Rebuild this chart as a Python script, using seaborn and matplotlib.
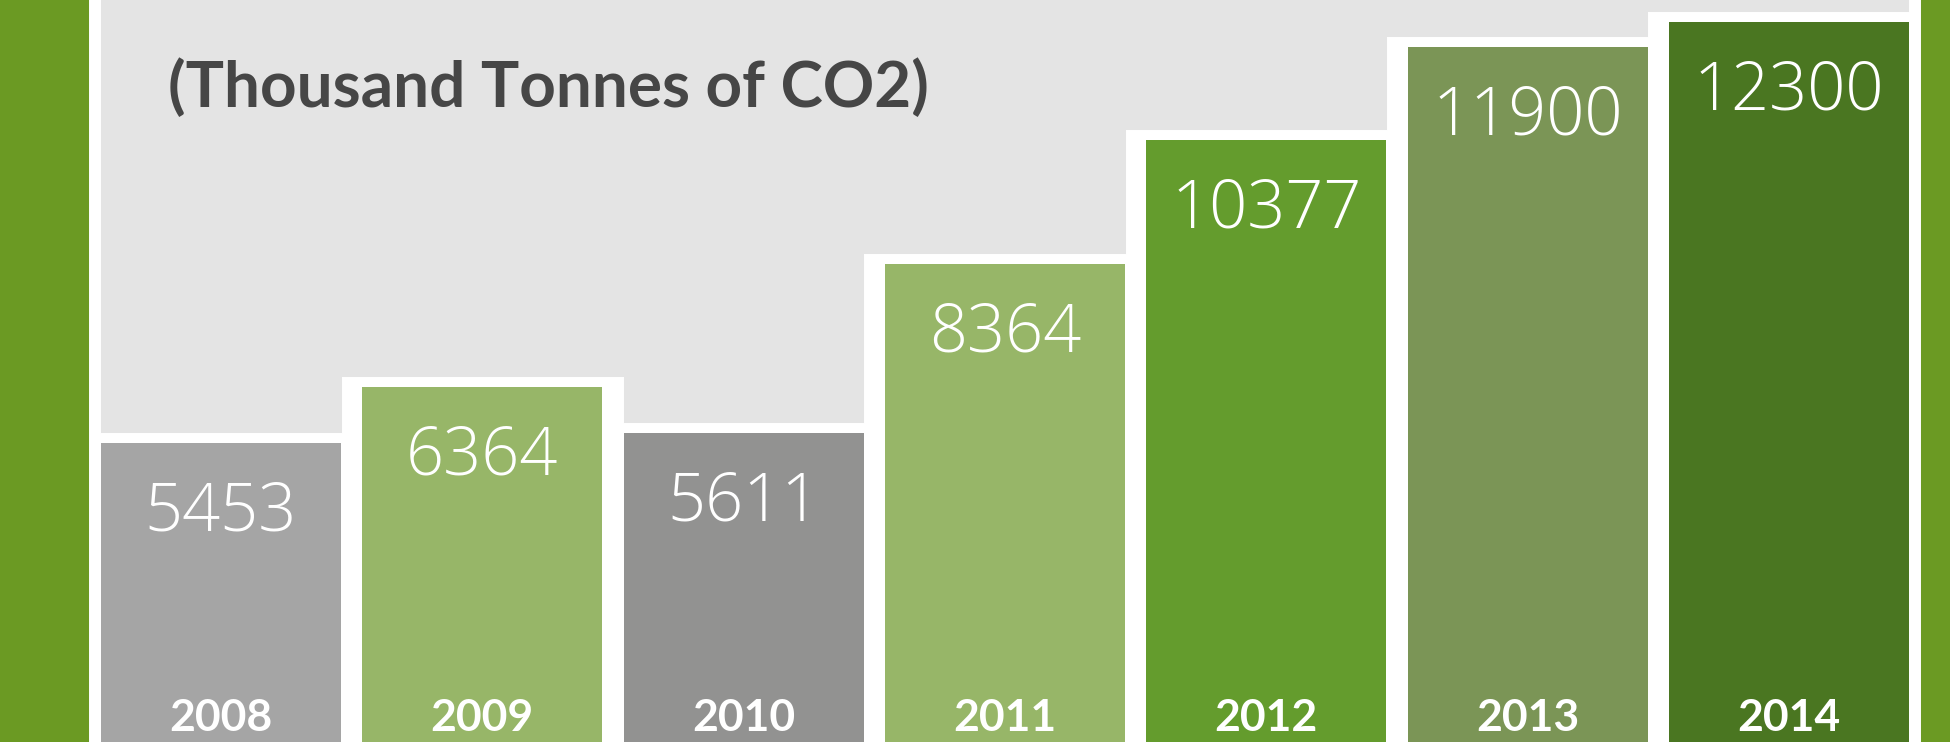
import matplotlib
matplotlib.use("Agg")
import matplotlib.pyplot as plt
import seaborn as sns

# data
years = ["2008", "2009", "2010", "2011", "2012", "2013", "2014"]
values = [5453, 6364, 5611, 8364, 10377, 11900, 12300]
bar_colors = ["#a5a5a5", "#97b668", "#929291", "#97b668", "#649c2d", "#7b9556", "#4a7621"]
subtitle = "(Thousand Tonnes of CO2)"

sns.set_style("white")
plt.rcParams["font.family"] = ["Lato", "DejaVu Sans"]

W, H, DPI = 1950, 742, 100
fig = plt.figure(figsize=(W / DPI, H / DPI), dpi=DPI, facecolor="#6b9a23")
# gray panel between the white side strips
ax = fig.add_axes([95 / W, 0, (1915 - 95) / W, 1])
ax.set_facecolor("#e4e4e4")

# white frame behind each bar, then the coloured bar itself
sns.barplot(x=years, y=values, color="white", width=1.0, saturation=1,
            edgecolor="white", linewidth=15.1, ax=ax)
sns.barplot(x=years, y=values, hue=years, palette=bar_colors, width=0.918,
            saturation=1, linewidth=0, legend=False, ax=ax)

ax.set_xlim(-0.482, 6.482)
ax.set_ylim(589, 12660)
ax.set_xticks([])
ax.set_yticks([])
ax.set_xlabel("")
ax.set_ylabel("")
for side in ["top", "bottom"]:
    ax.spines[side].set_visible(False)
for side in ["left", "right"]:
    ax.spines[side].set_color("white")
    ax.spines[side].set_linewidth(8.6)

# value labels inside the bars, year at the bottom
for i, v in enumerate(values):
    ax.annotate(str(v), xy=(i, v), xytext=(0, -63), textcoords="offset points",
                ha="center", va="baseline", color="white", fontsize=48,
                family=["Open Sans", "Lato", "DejaVu Sans"], fontweight="light")
    ax.text(i, 0.015, years[i], transform=ax.get_xaxis_transform(),
            ha="center", va="baseline", color="white", fontsize=32,
            fontweight="bold")

fig.text(168 / W, (H - 107) / H, subtitle, ha="left", va="baseline",
         color="#464646", fontsize=46, fontweight="bold")

fig.savefig("out.png", dpi=DPI, facecolor=fig.get_facecolor())
